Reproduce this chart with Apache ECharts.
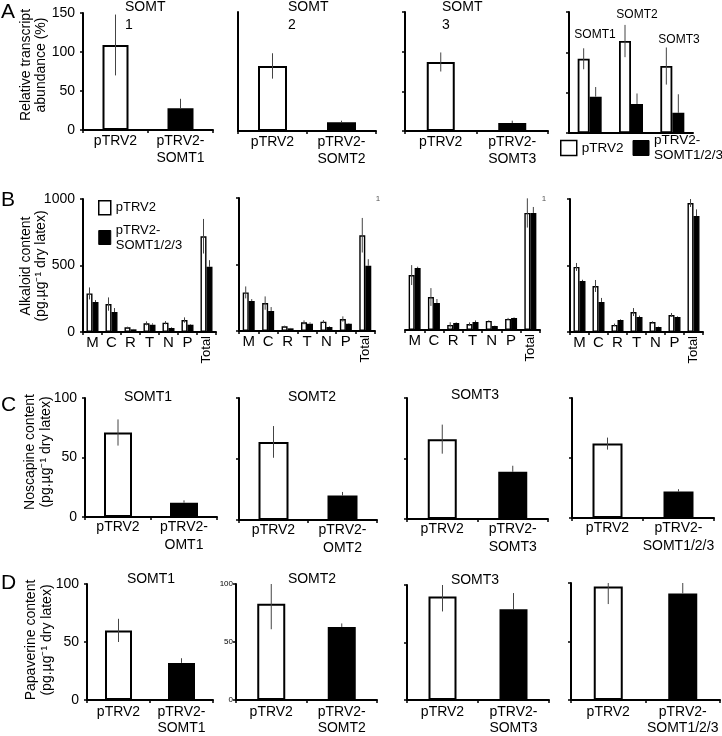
<!DOCTYPE html>
<html><head><meta charset="utf-8">
<script src="https://cdn.jsdelivr.net/npm/echarts@6/dist/echarts.min.js"></script>
<style>html,body{margin:0;padding:0;background:#fff}#c{width:722px;height:736px}</style>
</head><body><div id="c"></div>
<script>
const FONT = '"Liberation Sans", Arial, sans-serif';

// ---------- Row A: relative transcript abundance (%) ----------
const aCats1 = ['pTRV2', 'pTRV2-\nSOMT1'];
const aCats2 = ['pTRV2', 'pTRV2-\nSOMT2'];
const aCats3 = ['pTRV2', 'pTRV2-\nSOMT3'];
const aVals1 = [109, 28]; const aErr1 = [39, 12];
const aVals2 = [82, 11];  const aErr2 = [16, 2];
const aVals3 = [87, 10];  const aErr3 = [12, 3];
const aGroups = ['SOMT1', 'SOMT2', 'SOMT3'];
const aCtrl = [92, 114, 83]; const aCtrlErr = [13, 20, 23];
const aKd = [45, 36, 25];    const aKdErr = [12, 13, 23];

// ---------- Row B: alkaloid content ----------
const bCats = ['M', 'C', 'R', 'T', 'N', 'P', 'Total'];
const b1Ctrl = [290, 210, 35, 65, 70, 90, 720]; const b1CtrlErr = [45, 50, 5, 15, 12, 20, 130];
const b1Kd = [225, 150, 20, 55, 30, 55, 490];   const b1KdErr = [15, 30, 3, 10, 5, 5, 50];
const b2Ctrl = [290, 210, 35, 65, 70, 90, 720]; const b2CtrlErr = [45, 50, 5, 15, 12, 20, 130];
const b2Kd = [225, 150, 20, 55, 30, 55, 490];   const b2KdErr = [15, 30, 3, 10, 5, 5, 50];
const b3Ctrl = [413, 248, 38, 45, 68, 83, 880]; const b3CtrlErr = [75, 67, 20, 12, 5, 8, 110];
const b3Kd = [466, 203, 53, 60, 30, 90, 880];   const b3KdErr = [10, 30, 5, 12, 3, 5, 45];
const b4Ctrl = [489, 346, 53, 150, 75, 128, 970]; const b4CtrlErr = [30, 45, 10, 30, 5, 15, 30];
const b4Kd = [383, 226, 90, 113, 38, 113, 872];   const b4KdErr = [10, 30, 5, 10, 3, 5, 50];

// ---------- Row C: noscapine content ----------
const cCats1 = ['pTRV2', 'pTRV2-\nOMT1'];
const cCats2 = ['pTRV2', 'pTRV2-\nOMT2'];
const cCats3 = ['pTRV2', 'pTRV2-\nSOMT3'];
const cCats4 = ['pTRV2', 'pTRV2-\nSOMT1/2/3'];
const cVals1 = [71, 12]; const cErr1 = [11, 2];
const cVals2 = [64, 20]; const cErr2 = [13, 3];
const cVals3 = [66, 39]; const cErr3 = [12, 5];
const cVals4 = [62, 22]; const cErr4 = [5, 2];

// ---------- Row D: papaverine content ----------
const dCats1 = ['pTRV2', 'pTRV2-\nSOMT1'];
const dCats2 = ['pTRV2', 'pTRV2-\nSOMT2'];
const dCats3 = ['pTRV2', 'pTRV2-\nSOMT3'];
const dCats4 = ['pTRV2', 'pTRV2-\nSOMT1/2/3'];
const dVals1 = [60, 32]; const dErr1 = [10, 4];
const dVals2 = [83, 63]; const dErr2 = [22, 3];
const dVals3 = [90, 79]; const dErr3 = [13, 14];
const dVals4 = [97, 91]; const dErr4 = [15, 9];

const option = {
  animation: false, backgroundColor: '#fff',
  grid: [], xAxis: [], yAxis: [], series: [], legend: [], graphic: []
};

const FILLS = ['#ffffff', '#000000'];

function errSeries(xi, yi, vals, errs, offset, upOnly, maxY) {
  return {
    type: 'custom', name: 'err', xAxisIndex: xi, yAxisIndex: yi, z: 5, silent: true,
    data: vals.map((v, i) => [i, v, errs[i]]),
    renderItem(params, api) {
      const i = api.value(0), v = api.value(1), e = api.value(2);
      const hi = Math.min(v + e, maxY);
      const lo = upOnly(i) ? v : Math.max(v - e, 0);
      const p1 = api.coord([i, hi]);
      const p2 = api.coord([i, lo]);
      return { type: 'line', shape: { x1: p1[0] + offset, y1: p1[1], x2: p2[0] + offset, y2: p2[1] },
        style: { stroke: '#444', lineWidth: 1 } };
    }
  };
}

function addAxes(p) {
  const gi = option.grid.length;
  option.grid.push({ left: p.left, top: p.top, width: p.width, height: p.height });
  const xi = option.xAxis.length;
  option.xAxis.push({
    type: 'category', gridIndex: gi, data: p.cats,
    axisLine: { lineStyle: { color: '#000', width: 2 } },
    axisTick: { show: p.xTicks !== false, alignWithLabel: false, length: 3, lineStyle: { color: '#000', width: 1.5 } },
    axisLabel: { show: p.xLabels !== false, color: '#000', fontFamily: FONT, fontSize: p.xFont || 14,
      lineHeight: p.xLine || 17, margin: p.xMargin == null ? 3 : p.xMargin, interval: 0,
      formatter: p.xFormatter },
    splitLine: { show: false }
  });
  option.yAxis.push({
    type: 'value', gridIndex: gi, min: 0, max: p.max, interval: p.interval,
    axisLine: { show: p.yLine !== false, lineStyle: { color: '#000', width: 2 } },
    axisTick: { show: p.yLine !== false && p.yTicks !== false, length: 3, lineStyle: { color: '#000', width: 1.5 } },
    axisLabel: { show: !!p.yLabels, color: '#000', fontFamily: FONT, fontSize: p.yFont || 14, margin: p.yMargin || 8,
      formatter: v => String(v) },
    splitLine: { show: false }
  });
  return { gi, xi, yi: gi };
}

function singlePanel(p, cats, vals, errs) {
  const a = addAxes(Object.assign({ cats }, p));
  option.series.push({
    type: 'bar', name: 'bars', xAxisIndex: a.xi, yAxisIndex: a.yi, barWidth: p.barWidth, z: 3,
    data: vals.map((v, i) => ({ value: v, itemStyle: { color: FILLS[i], borderColor: '#000', borderWidth: 2 } }))
  });
  option.series.push(errSeries(a.xi, a.yi, vals, errs, 0, i => i === 1, p.max));
}

function groupPanel(p, cats, ctrl, ctrlErr, kd, kdErr) {
  const a = addAxes(Object.assign({ cats }, p));
  const w = p.barWidth;
  option.series.push({
    type: 'bar', name: 'pTRV2', xAxisIndex: a.xi, yAxisIndex: a.yi, barWidth: w, barGap: '0%', z: 3,
    itemStyle: { color: '#fff', borderColor: '#000', borderWidth: p.bw || 1.4 }, data: ctrl
  });
  option.series.push({
    type: 'bar', name: 'pTRV2-SOMT1/2/3', xAxisIndex: a.xi, yAxisIndex: a.yi, barWidth: w, barGap: '0%', z: 3,
    itemStyle: { color: '#000', borderColor: '#000', borderWidth: p.bw || 1.4 }, data: kd
  });
  option.series.push(errSeries(a.xi, a.yi, ctrl, ctrlErr, -w / 2, () => false, p.max));
  option.series.push(errSeries(a.xi, a.yi, kd, kdErr, w / 2, () => true, p.max));
  return a;
}

// Row A
singlePanel({ left: 83, top: 13, width: 130, height: 117, max: 150, interval: 50, yLabels: true, barWidth: 26 }, aCats1, aVals1, aErr1);
singlePanel({ left: 238, top: 12, width: 138, height: 119, max: 150, interval: 50, yTicks: false, barWidth: 29 }, aCats2, aVals2, aErr2);
singlePanel({ left: 405, top: 12, width: 143, height: 119, max: 150, interval: 50, barWidth: 28 }, aCats3, aVals3, aErr3);
groupPanel({ left: 569, top: 12, width: 124, height: 121, max: 150, interval: 50, barWidth: 12, xLabels: false, xTicks: false, bw: 1.8 },
  aGroups, aCtrl, aCtrlErr, aKd, aKdErr);

// Row B
function bPanel(p, ctrl, ctrlErr, kd, kdErr) {
  const a = groupPanel(Object.assign({ max: 1000, interval: 500, barWidth: 6, xFont: 15, xLine: 14, xMargin: 4,
    xFormatter: v => (v === 'Total' ? '' : v) }, p), bCats, ctrl, ctrlErr, kd, kdErr);
  option.xAxis.push({
    type: 'category', gridIndex: a.gi, data: bCats, position: 'bottom',
    axisLine: { show: false }, axisTick: { show: false }, splitLine: { show: false },
    axisLabel: { color: '#000', fontFamily: FONT, fontSize: 13, rotate: 90, margin: 4, interval: 0,
      formatter: v => (v === 'Total' ? v : '') }
  });
}
bPanel({ left: 83, top: 199, width: 133, height: 133, yLabels: true }, b1Ctrl, b1CtrlErr, b1Kd, b1KdErr);
bPanel({ left: 239, top: 198, width: 136, height: 133 }, b2Ctrl, b2CtrlErr, b2Kd, b2KdErr);
bPanel({ left: 405, top: 197, width: 135, height: 133, yLine: false }, b3Ctrl, b3CtrlErr, b3Kd, b3KdErr);
bPanel({ left: 570, top: 199, width: 133, height: 133 }, b4Ctrl, b4CtrlErr, b4Kd, b4KdErr);

// Row C
const cx = { max: 100, interval: 50, xLine: 18, xMargin: 1 };
singlePanel(Object.assign({ left: 85, top: 398, width: 132, height: 119, yLabels: true, barWidth: 28 }, cx), cCats1, cVals1, cErr1);
singlePanel(Object.assign({ left: 239, top: 398, width: 138, height: 122, barWidth: 30 }, cx), cCats2, cVals2, cErr2);
singlePanel(Object.assign({ left: 407, top: 398, width: 141, height: 121, barWidth: 29 }, cx), cCats3, cVals3, cErr3);
singlePanel(Object.assign({ left: 572, top: 398, width: 142, height: 120, barWidth: 30 }, cx), cCats4, cVals4, cErr4);

// Row D
const dx = { max: 100, interval: 50, xLine: 16, xMargin: 4 };
singlePanel(Object.assign({ left: 87, top: 584, width: 126, height: 117, yLabels: true, barWidth: 27 }, dx), dCats1, dVals1, dErr1);
singlePanel(Object.assign({ left: 236, top: 584, width: 141, height: 122, yLabels: true, yFont: 8, yMargin: 3, barWidth: 28 }, dx), dCats2, dVals2, dErr2);
singlePanel(Object.assign({ left: 407, top: 585, width: 142, height: 120, barWidth: 28 }, dx), dCats3, dVals3, dErr3);
singlePanel(Object.assign({ left: 571, top: 583, width: 149, height: 119, barWidth: 29 }, dx), dCats4, dVals4, dErr4);

// Legends
const legItems = [
  { name: 'pTRV2', icon: 'rect', itemStyle: { color: '#fff', borderColor: '#000', borderWidth: 1.5 } },
  { name: 'pTRV2-SOMT1/2/3', icon: 'rect', itemStyle: { color: '#000', borderColor: '#000', borderWidth: 1 } }
];
const legFmt = n => (n === 'pTRV2-SOMT1/2/3' ? 'pTRV2-\nSOMT1/2/3' : n);
option.legend.push({
  left: 560, top: 133, width: 300, orient: 'horizontal', itemWidth: 16, itemHeight: 15, itemGap: 9, padding: 0,
  selectedMode: false, data: legItems, formatter: legFmt,
  textStyle: { color: '#000', fontFamily: FONT, fontSize: 13.5, lineHeight: 15 }
});
option.legend.push({
  left: 98, top: 200, orient: 'vertical', itemWidth: 12, itemHeight: 14, itemGap: 7, padding: 0,
  selectedMode: false, data: legItems, formatter: legFmt,
  textStyle: { color: '#000', fontFamily: FONT, fontSize: 13, lineHeight: 15 }
});

// Text
function txt(x, y, s, size, opts) {
  option.graphic.push({
    type: 'text', x, y, silent: true,
    style: Object.assign({ text: s, fill: '#000', font: size + 'px ' + FONT, textAlign: 'center', textVerticalAlign: 'middle' }, opts || {})
  });
}
function rtxt(x, y, s, size, lh) {
  option.graphic.push({
    type: 'text', x, y, rotation: Math.PI / 2, silent: true,
    style: { text: s, fill: '#000', font: size + 'px ' + FONT, textAlign: 'center', textVerticalAlign: 'middle', lineHeight: lh }
  });
}
// panel letters
txt(1, 12, 'A', 21, { textAlign: 'left' });
txt(1, 200, 'B', 21, { textAlign: 'left' });
txt(1, 405, 'C', 21, { textAlign: 'left' });
txt(1, 583, 'D', 21, { textAlign: 'left' });
// y-axis titles
rtxt(34, 65, 'Relative transcript\nabundance (%)', 14, 15);
rtxt(34, 266, 'Alkaloid content\n(pg.µg⁻¹ dry latex)', 14, 15);
rtxt(38, 452, 'Noscapine content\n(pg.µg⁻¹ dry latex)', 14, 16);
rtxt(39, 640, 'Papaverine content\n(pg.µg⁻¹ dry latex)', 14, 16);
// Row A titles
txt(125, 16, 'SOMT\n1', 14, { textAlign: 'left', lineHeight: 18 });
txt(288, 16, 'SOMT\n2', 14, { textAlign: 'left', lineHeight: 18 });
txt(442, 16, 'SOMT\n3', 14, { textAlign: 'left', lineHeight: 18 });
txt(595, 35, 'SOMT1', 12);
txt(637, 15, 'SOMT2', 12);
txt(679, 40, 'SOMT3', 12);
// Row B stray marks
txt(378, 199, '1', 8, { fill: '#555' });
txt(544, 199, '1', 8, { fill: '#555' });
// Row C titles
txt(148, 397, 'SOMT1', 14);
txt(312, 397, 'SOMT2', 14);
txt(475, 395, 'SOMT3', 14);
// Row D titles
txt(151, 579, 'SOMT1', 14);
txt(312, 579, 'SOMT2', 14);
txt(475, 580, 'SOMT3', 14);

const chart = echarts.init(document.getElementById('c'), null, { renderer: 'canvas' });
chart.setOption(option);
</script>
</body></html>
